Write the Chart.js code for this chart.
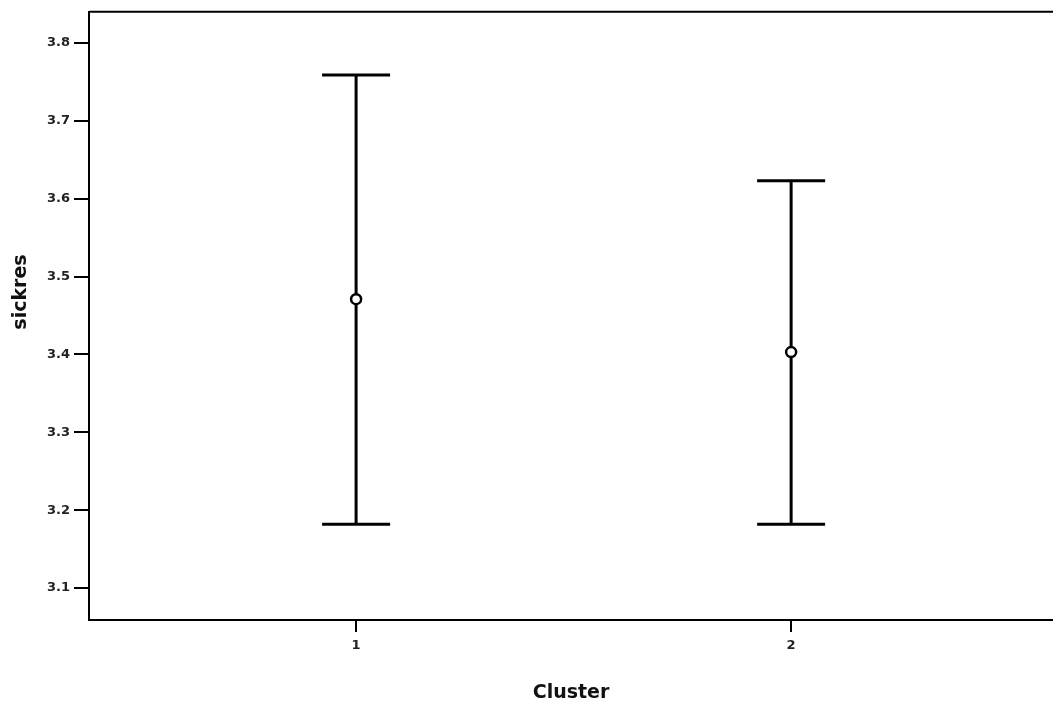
<!DOCTYPE html>
<html>
<head>
<meta charset="utf-8">
<script src="https://cdn.jsdelivr.net/npm/chart.js@4"></script>
<style>
  html, body { margin: 0; padding: 0; background: #fff; }
  #wrap { width: 1053px; height: 704px; position: relative; }
</style>
</head>
<body>
<div id="wrap"><canvas id="chart"></canvas></div>
<script>
'use strict';

// data
const clusters = [1, 2];
const means = [3.471, 3.403];
const upper = [3.759, 3.623];
const lower = [3.182, 3.182];
const yTicks = [3.1, 3.2, 3.3, 3.4, 3.5, 3.6, 3.7, 3.8];

const titleFont = { family: "'DejaVu Sans', sans-serif", size: 19, weight: 'bold' };
const tickFont = { family: "'DejaVu Sans', sans-serif", size: 13, weight: 'bold' };

// error bars, frame top line, y title
const ErrorBarPlugin = {
  id: 'errorBars',
  afterDatasetsDraw(chart) {
    const { ctx, chartArea, scales } = chart;
    const x = scales.x, y = scales.y;
    ctx.save();
    ctx.strokeStyle = '#000';
    ctx.lineCap = 'butt';
    clusters.forEach((c, i) => {
      const px = x.getPixelForValue(c);
      const top = y.getPixelForValue(upper[i]);
      const bot = y.getPixelForValue(lower[i]);
      const mid = y.getPixelForValue(means[i]);
      const half = 34;
      ctx.lineWidth = 3;
      ctx.beginPath();
      ctx.moveTo(px, top); ctx.lineTo(px, mid - 5);
      ctx.moveTo(px, mid + 5); ctx.lineTo(px, bot);
      ctx.moveTo(px - half, top); ctx.lineTo(px + half, top);
      ctx.moveTo(px - half, bot); ctx.lineTo(px + half, bot);
      ctx.stroke();
      ctx.lineWidth = 2.5;
      ctx.beginPath();
      ctx.arc(px, mid, 5, 0, Math.PI * 2);
      ctx.stroke();
    });
    // top border of the frame
    ctx.lineWidth = 2;
    ctx.beginPath();
    ctx.moveTo(chartArea.left, chartArea.top);
    ctx.lineTo(chartArea.right, chartArea.top);
    ctx.stroke();
    // y title, sits a bit above the middle like the original
    ctx.translate(21, 292);
    ctx.rotate(-Math.PI / 2);
    ctx.fillStyle = '#111';
    ctx.font = `bold ${titleFont.size}px ${titleFont.family}`;
    ctx.textAlign = 'center';
    ctx.textBaseline = 'middle';
    ctx.fillText('sickres', 0, 0);
    ctx.restore();
  }
};

new Chart(document.getElementById('chart'), {
  type: 'scatter',
  data: {
    datasets: [{
      data: clusters.map((c, i) => ({ x: c, y: means[i] })),
      pointRadius: 0,
      showLine: false
    }]
  },
  options: {
    responsive: true,
    maintainAspectRatio: false,
    animation: false,
    layout: { padding: { top: 8, right: 0, left: 0, bottom: 0 } },
    plugins: { legend: { display: false }, tooltip: { enabled: false } },
    scales: {
      x: {
        type: 'linear',
        min: 0.386,
        max: 2.602,
        afterBuildTicks(axis) { axis.ticks = clusters.map(v => ({ value: v })); },
        afterFit(axis) { axis.height = 84; },
        ticks: { color: '#222', font: tickFont, padding: 6, callback: v => String(v) },
        grid: { drawOnChartArea: false, drawTicks: true, tickLength: 12, color: '#000', lineWidth: 2 },
        border: { display: true, color: '#000', width: 2 },
        title: { display: true, text: 'Cluster', color: '#111', font: titleFont, padding: { top: 12, bottom: 0 } }
      },
      y: {
        min: 3.059,
        max: 3.84,
        afterBuildTicks(axis) { axis.ticks = yTicks.map(v => ({ value: v })); },
        afterFit(axis) { axis.width = 89; },
        ticks: { color: '#222', font: tickFont, padding: 4, callback: v => v.toFixed(1) },
        grid: { drawOnChartArea: false, drawTicks: true, tickLength: 15, color: '#000', lineWidth: 2 },
        border: { display: true, color: '#000', width: 2 },
        title: { display: false }
      }
    }
  },
  plugins: [ErrorBarPlugin]
});
</script>
</body>
</html>
